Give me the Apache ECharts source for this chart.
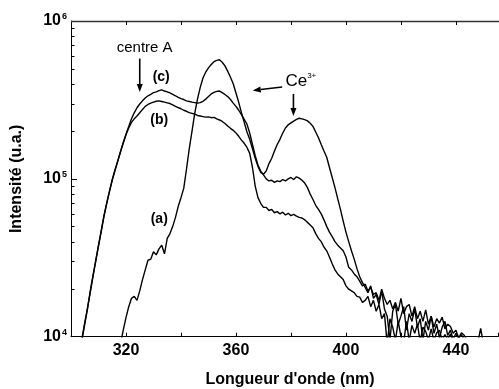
<!DOCTYPE html>
<html><head><meta charset="utf-8">
<script src="https://cdn.jsdelivr.net/npm/echarts@6/dist/echarts.min.js"></script>
<style>html,body{margin:0;padding:0;background:#fff}#c{width:499px;height:389px}</style>
</head><body><div id="c"></div>
<script>
const wavelengths = [
302,303,304,305,306,307,308,309,310,311,312,313,314,315,316,317,318,319,320,
321,322,323,324,325,326,327,328,329,330,331,332,333,334,335,336,337,338,339,340,
341,342,343,344,345,346,347,348,349,350,351,352,353,354,355,356,357,358,359,360,
361,362,363,364,365,366,367,368,369,370,371,372,373,374,375,376,377,378,379,380,
381,382,383,384,385,386,387,388,389,390,391,392,393,394,395,396,397,398,399,400,
401,402,403,404,405,406,407,408,409,410,411,412,413,414,415,416,417,418,419,420,
421,422,423,424,425,426,427,428,429,430,431,432,433,434,435,436,437,438,439,440,
441,442,443,444,445,446,447,448,449,450,451,452,453,454,455];

// (a) : Ce3+ emission
const curveA = [
null,null,null,null,null,null,null,null,null,null,null,null,null,null,null,null,9000,11000,13200,
15500,17500,18000,17000,19500,23000,26500,30500,31000,34500,33000,36000,38000,33500,42000,45000,50000,57000,67000,76000,
87000,115000,155000,200000,260000,320000,380000,435000,475000,505000,530000,552000,563000,568000,548000,520000,480000,440000,400000,350000,
305000,262000,228000,198000,178000,155000,135000,120000,110000,107000,112000,125000,135000,150000,165000,178000,195000,210000,220000,226000,
232000,238000,242000,240000,237000,233000,225000,215000,198000,182000,165000,150000,137000,118000,102000,88000,75000,64000,54000,46000,
40000,35000,31000,27000,24000,22000,20500,19000,21000,17500,18500,16000,19500,15000,13500,9500,14500,16000,12000,13500,
15500,11000,14000,12500,15000,11500,13000,9500,12500,11000,13500,10500,12000,9800,11500,12500,10200,11000,9600,10500,
9800,10300,9500,9200,9000,8800,9200,9300,11300,9000,8800,8600,8600,8500,8500];

// (b)
const curveB = [
6200,7800,9800,12300,15200,19000,24000,30500,37500,46500,58500,70500,83000,99000,114000,129000,149000,168000,190000,
210000,228000,240000,250000,262000,275000,288000,296000,302000,306000,310000,312000,309000,306000,303000,300000,294000,288000,283000,278000,
272000,268000,263000,260000,257000,252000,250000,248000,246000,247000,244000,245000,240000,236000,231000,224000,216000,209000,203000,195000,
186000,176000,168000,158000,145000,118000,90000,76000,70000,66000,66000,63000,64000,61000,62000,60000,61500,59000,60500,58500,
59500,58000,57000,56500,55000,53000,51000,49000,45000,42000,40000,37000,35000,32000,29000,26500,25000,24000,23000,21000,
20000,19500,19000,18000,17800,16500,17000,18000,15500,17000,14500,16000,13000,14000,9000,13000,11500,9500,12500,10000,
9200,12500,9400,11800,10500,12000,9300,11500,10800,9500,11200,9400,10600,11000,9500,10300,9600,10400,9300,9700,
9500,9000,8800,8600,8500,8500,8500,8500,8500,8500,8500,8500,8500,8500,8500];

// (c)
const curveC = [
6000,7500,9500,12000,15000,19500,24500,30000,38000,47000,58000,70000,84000,98000,113000,130000,148000,170000,192000,
215000,240000,262000,282000,298000,312000,325000,336000,343000,352000,356000,362000,366000,360000,356000,350000,343000,336000,328000,322000,
318000,312000,309000,306000,304000,302000,304000,310000,320000,332000,345000,353000,358000,360000,352000,342000,332000,318000,302000,288000,
272000,255000,238000,222000,195000,165000,140000,122000,112000,106000,100000,97000,98000,95000,97000,96000,99000,97000,100000,102000,
99000,103000,101000,98000,94000,88000,80000,74000,68000,64000,60000,55000,50000,46000,43000,40000,38000,36500,35000,32000,
27500,26500,25000,24000,22500,21000,21500,19500,20500,18500,19000,17000,20000,17500,16000,17000,15000,16500,14500,17500,
14000,15500,16000,13500,15500,13000,14500,12500,14800,12000,13500,11500,13000,12200,13300,11200,12000,11600,10500,11000,
9800,10600,10200,9600,9300,9000,8800,8700,8600,8600,8500,8500,8500,8500,8500];

const xTickLabels = [320, 360, 400, 440];
const xFrameTicks = [320, 340, 360, 380, 400, 420, 440];
const yMinorTicks = [20000,30000,40000,50000,60000,70000,80000,90000,200000,300000,400000,500000,600000,700000,800000,900000];

// annotations in data coordinates [wavelength, intensity]
const textNotes = [
  {text: 'centre A', at: [326.8, 679000], kind: 'plain'},
  {text: '(c)', at: [332.8, 438000], kind: 'bold'},
  {text: '(b)', at: [332.1, 236000], kind: 'bold'},
  {text: '(a)', at: [332.1, 55700], kind: 'bold'},
  {text: 'Ce', sup: '3+', at: [383.6, 417000], kind: 'ce'}
];
const arrowNotes = [
  {from: [325.0, 578000], to: [325.0, 355000]},
  {from: [376.8, 382000], to: [366.1, 363000]},
  {from: [380.9, 345000], to: [380.9, 250000]}
];

const FONT = 'Liberation Sans, Arial, Helvetica, sans-serif';
const X_MIN = 300, X_MAX = 455.3, Y_MIN = 10000, Y_MAX = 1000000;
const toPairs = arr => wavelengths.map((w, i) => [w, arr[i]]).filter(p => p[1] != null);

const chart = echarts.init(document.getElementById('c'), null, {renderer: 'canvas'});
const lineSeries = (name, arr) => ({
  name, type: 'line', data: toPairs(arr), showSymbol: false, symbol: 'none',
  clip: true, lineStyle: {color: '#000', width: 1.4}, xAxisIndex: 0, yAxisIndex: 0, z: 3
});
const axisLineStyle = () => ({show: true, onZero: false, lineStyle: {color: '#000', width: 1}});
const option = {
  animation: false,
  backgroundColor: '#fff',
  grid: {left: 71, right: 1, top: 21, bottom: 52.3, containLabel: false, outerBoundsMode: 'none'},
  xAxis: [
    {
      type: 'value', min: X_MIN, max: X_MAX, interval: 20, position: 'bottom',
      axisLine: axisLineStyle(), splitLine: {show: false},
      axisTick: {show: true, inside: true, length: 4, lineStyle: {color: '#000'}},
      axisLabel: {
        formatter: v => xTickLabels.includes(v) ? String(v) : '',
        fontWeight: 'bold', fontSize: 16, color: '#000', fontFamily: FONT, margin: 6
      },
      name: "Longueur d'onde (nm)", nameLocation: 'middle', nameGap: 35,
      nameTextStyle: {fontWeight: 'bold', fontSize: 16, color: '#000', fontFamily: FONT, padding: [0, 0, 0, 11], verticalAlign: 'top'}
    }
  ],
  yAxis: [
    {
      type: 'log', logBase: 10, min: Y_MIN, max: Y_MAX, position: 'left',
      axisLine: axisLineStyle(), splitLine: {show: false},
      axisTick: {show: true, inside: true, length: 6, lineStyle: {color: '#000'}},
      axisLabel: {
        formatter: v => '{b|10}{s|' + Math.round(Math.log10(v)) + '}',
        margin: 4, color: '#000',
        rich: {
          b: {fontWeight: 'bold', fontSize: 16, fontFamily: FONT, color: '#000', lineHeight: 17},
          s: {fontWeight: 'bold', fontSize: 9, fontFamily: FONT, color: '#000', verticalAlign: 'top', lineHeight: 17, padding: [0, 0, 8, 1]}
        }
      },
      name: 'Intensité (u.a.)', nameLocation: 'middle', nameGap: 40, nameRotate: 90,
      nameTextStyle: {fontWeight: 'bold', fontSize: 16, color: '#000', fontFamily: FONT, padding: [0, 0, 6, 0]}
    }
  ],
  series: [lineSeries('(a)', curveA), lineSeries('(b)', curveB), lineSeries('(c)', curveC)]
};
chart.setOption(option);

const px = p => chart.convertToPixel({gridIndex: 0}, p);
const crisp = v => Math.round(v) + 0.5;
const graphics = [];
// top frame line with inward ticks, placed through the axis scales
const tl = px([X_MIN, Y_MAX]), tr = px([X_MAX, Y_MAX]);
graphics.push({type: 'line', shape: {x1: tl[0], y1: tl[1] + 0.5, x2: tr[0] + 1, y2: tl[1] + 0.5}, style: {stroke: '#333', lineWidth: 1.5}, z: 10});
xFrameTicks.forEach(w => {
  const p = px([w, Y_MAX]);
  graphics.push({type: 'line', shape: {x1: crisp(p[0]), y1: p[1], x2: crisp(p[0]), y2: p[1] + 4}, style: {stroke: '#000', lineWidth: 1}, z: 10});
});
// minor ticks of the logarithmic axis (2..9 in every decade)
yMinorTicks.forEach(v => {
  const p = px([X_MIN, v]);
  const y = crisp(p[1]);
  graphics.push({type: 'line', shape: {x1: p[0], y1: y, x2: p[0] + 3.5, y2: y}, style: {stroke: '#000', lineWidth: 1}, z: 10});
});
textNotes.forEach(n => {
  const p = px(n.at);
  let style;
  if (n.kind === 'ce') {
    style = {text: '{n|' + n.text + '}{s|' + n.sup + '}', rich: {
      n: {fontSize: 17, fontFamily: FONT, fill: '#000', color: '#000', lineHeight: 19},
      s: {fontSize: 8, fontFamily: FONT, fill: '#000', color: '#000', verticalAlign: 'top', lineHeight: 19, padding: [0, 0, 9, 0]}
    }};
  } else {
    style = {text: n.text, fontSize: n.kind === 'bold' ? 14 : 15, fontWeight: n.kind === 'bold' ? 'bold' : 'normal', fontFamily: FONT};
  }
  style.fill = '#000';
  style.align = 'center';
  style.verticalAlign = 'middle';
  graphics.push({type: 'text', x: p[0], y: p[1], style, z: 10});
});
arrowNotes.forEach(a => {
  const s = px(a.from), e = px(a.to);
  const dx = e[0] - s[0], dy = e[1] - s[1], len = Math.hypot(dx, dy);
  const ux = dx / len, uy = dy / len, hl = 8, hw = 3;
  const b = [e[0] - ux * hl, e[1] - uy * hl];
  graphics.push({type: 'line', shape: {x1: s[0], y1: s[1], x2: b[0], y2: b[1]}, style: {stroke: '#000', lineWidth: 1.6}, z: 10});
  graphics.push({type: 'polygon', shape: {points: [[e[0], e[1]], [b[0] - uy * hw, b[1] + ux * hw], [b[0] + uy * hw, b[1] - ux * hw]]}, style: {fill: '#000'}, z: 10});
});
chart.setOption({graphic: graphics});
</script>
</body></html>
